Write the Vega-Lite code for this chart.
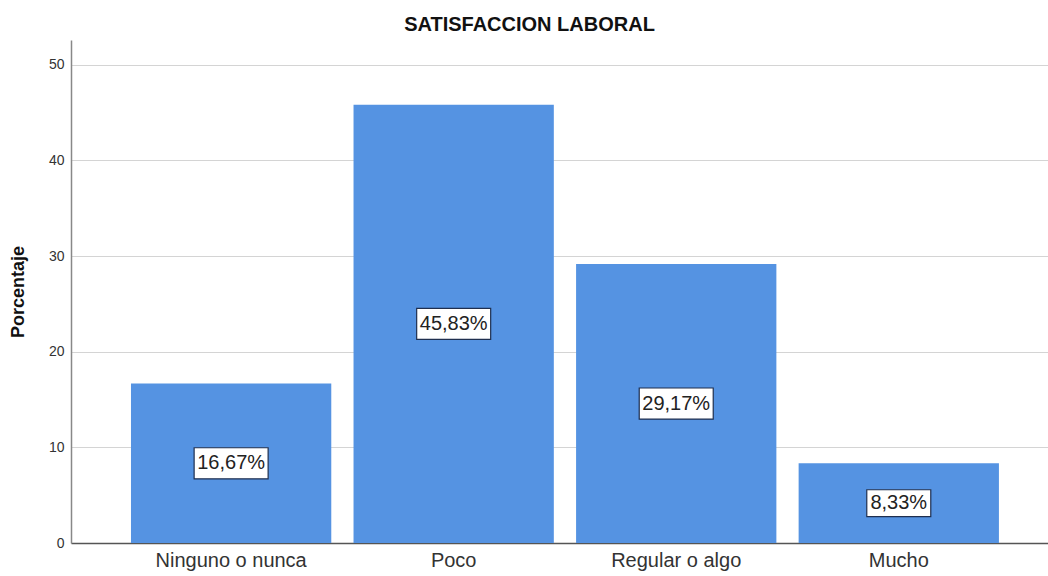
{
  "$schema": "https://vega.github.io/schema/vega-lite/v6.json",
  "width": 977,
  "height": 503,
  "autosize": {"type": "none"},
  "padding": {"left": 71, "top": 40, "right": 0, "bottom": 33},
  "background": "white",
  "config": {
    "view": {"stroke": null},
    "font": "Liberation Sans"
  },
  "title": {
    "text": "SATISFACCION LABORAL",
    "font": "Liberation Sans",
    "fontSize": 20,
    "fontWeight": "bold",
    "color": "#111111",
    "anchor": "middle",
    "frame": "group",
    "dx": -30,
    "offset": 5
  },
  "data": {
    "values": [
      {"categoria": "Ninguno o nunca", "porcentaje": 16.67, "etiqueta": "16,67%"},
      {"categoria": "Poco", "porcentaje": 45.83, "etiqueta": "45,83%"},
      {"categoria": "Regular o algo", "porcentaje": 29.17, "etiqueta": "29,17%"},
      {"categoria": "Mucho", "porcentaje": 8.33, "etiqueta": "8,33%"}
    ]
  },
  "encoding": {
    "x": {
      "field": "categoria",
      "type": "nominal",
      "sort": ["Ninguno o nunca", "Poco", "Regular o algo", "Mucho"],
      "scale": {"paddingInner": 0.1, "paddingOuter": 0.245, "align": 0.55},
      "axis": {
        "title": null,
        "labelAngle": 0,
        "labelFontSize": 20,
        "labelColor": "#333333",
        "labelPadding": 7,
        "ticks": false,
        "domainColor": "#555555",
        "domainWidth": 1.5,
        "grid": false
      }
    }
  },
  "layer": [
    {
      "mark": {"type": "bar", "color": "#5593e2"},
      "encoding": {
        "y": {
          "field": "porcentaje",
          "type": "quantitative",
          "scale": {"domain": [0, 52.6], "nice": false},
          "axis": {
            "title": "Porcentaje",
            "titleFontSize": 18,
            "titleFontWeight": "bold",
            "titleColor": "#111111",
            "titlePadding": 21,
            "values": [0, 10, 20, 30, 40, 50],
            "labelFontSize": 14,
            "labelColor": "#333333",
            "labelPadding": 7,
            "ticks": false,
            "domainColor": "#888888",
            "domainWidth": 1.5,
            "gridColor": "#d4d4d4",
            "gridWidth": 1.2
          }
        }
      }
    },
    {
      "transform": [{"calculate": "datum.porcentaje / 2", "as": "medio"}],
      "mark": {
        "type": "point",
        "shape": "M-1,-0.42L1,-0.42L1,0.42L-1,0.42Z",
        "filled": true,
        "fill": "white",
        "stroke": "#1f2f4f",
        "strokeWidth": 1.2,
        "opacity": 1
      },
      "encoding": {
        "y": {"field": "medio", "type": "quantitative"},
        "size": {
          "condition": {"test": "length(datum.etiqueta) < 6", "value": 4096},
          "value": 5476
        }
      }
    },
    {
      "transform": [{"calculate": "datum.porcentaje / 2", "as": "medio"}],
      "mark": {
        "type": "text",
        "fontSize": 20,
        "color": "#222222",
        "baseline": "middle",
        "align": "center"
      },
      "encoding": {
        "y": {"field": "medio", "type": "quantitative"},
        "text": {"field": "etiqueta"}
      }
    }
  ]
}
